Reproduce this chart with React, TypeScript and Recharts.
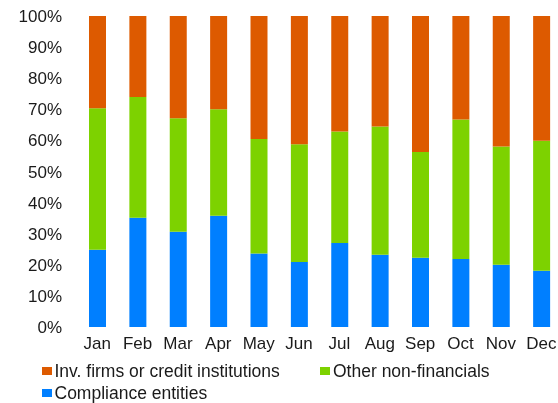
import React from "react";
import { BarChart, Bar, XAxis, YAxis, Legend } from "recharts";

const months = ["Jan", "Feb", "Mar", "Apr", "May", "Jun", "Jul", "Aug", "Sep", "Oct", "Nov", "Dec"];
const compliance = [24.8, 35.1, 30.6, 35.8, 23.6, 20.9, 27.0, 23.2, 22.3, 21.9, 20.0, 18.1];
const otherNonFin = [45.5, 38.85, 36.5, 34.2, 36.85, 37.9, 35.9, 41.3, 34.0, 44.8, 38.0, 41.8];
const invFirms = [29.7, 26.05, 32.9, 30.0, 39.55, 41.2, 37.1, 35.5, 43.7, 33.3, 42.0, 40.1];
const yTicks = [0, 10, 20, 30, 40, 50, 60, 70, 80, 90, 100];

const COLORS = {
  inv: "#DD5A00",
  other: "#7DD200",
  comp: "#007FFF",
};

const data = months.map((m, i) => ({
  month: m,
  comp: compliance[i],
  other: otherNonFin[i],
  inv: invFirms[i],
}));

const FONT = "'Liberation Sans', Arial, sans-serif";
const FS = 17;
const LFS = 17.5;

const legendItems = [
  { key: "inv", label: "Inv. firms or credit institutions", color: COLORS.inv, left: 33.5, top: 3 },
  { key: "other", label: "Other non-financials", color: COLORS.other, left: 312, top: 3 },
  { key: "comp", label: "Compliance entities", color: COLORS.comp, left: 33.5, top: 25.4 },
];

const LegendContent = () => (
  <div style={{ position: "relative", height: 46, width: 560, fontFamily: FONT, fontSize: LFS, color: "#1a1a1a" }}>
    {legendItems.map((it) => (
      <div
        key={it.key}
        style={{
          position: "absolute",
          left: it.left,
          top: it.top,
          height: 22,
          lineHeight: "22px",
          display: "flex",
          alignItems: "center",
          whiteSpace: "nowrap",
        }}
      >
        <span style={{ display: "inline-block", width: 10, height: 8, background: it.color, marginRight: 3 }} />
        <span>{it.label}</span>
      </div>
    ))}
  </div>
);

export default function App() {
  return (
    <div style={{ position: "fixed", top: 8, left: 8, width: 550, height: 395, overflow: "hidden" }}>
      <BarChart
        width={560}
        height={395}
        data={data}
        margin={{ top: 8, right: 6.5, bottom: 0, left: 0 }}
        barSize={17}
      >
        <XAxis
          dataKey="month"
          axisLine={false}
          tickLine={false}
          tickSize={0}
          tickMargin={10}
          height={30}
          interval={0}
          tick={{ fill: "#1a1a1a", fontSize: FS, fontFamily: FONT }}
        />
        <YAxis
          type="number"
          domain={[0, 100]}
          ticks={yTicks}
          interval={0}
          width={69}
          axisLine={false}
          tickLine={false}
          tickSize={0}
          tickMargin={15}
          tickFormatter={(v: number) => `${v}%`}
          tick={{ fill: "#1a1a1a", fontSize: FS, fontFamily: FONT }}
        />
        <Legend
          verticalAlign="bottom"
          align="left"
          content={<LegendContent />}
          wrapperStyle={{ left: 0, width: 560, height: 46 }}
        />
        <Bar dataKey="comp" stackId="a" fill={COLORS.comp} isAnimationActive={false} />
        <Bar dataKey="other" stackId="a" fill={COLORS.other} isAnimationActive={false} />
        <Bar dataKey="inv" stackId="a" fill={COLORS.inv} isAnimationActive={false} />
      </BarChart>
    </div>
  );
}
